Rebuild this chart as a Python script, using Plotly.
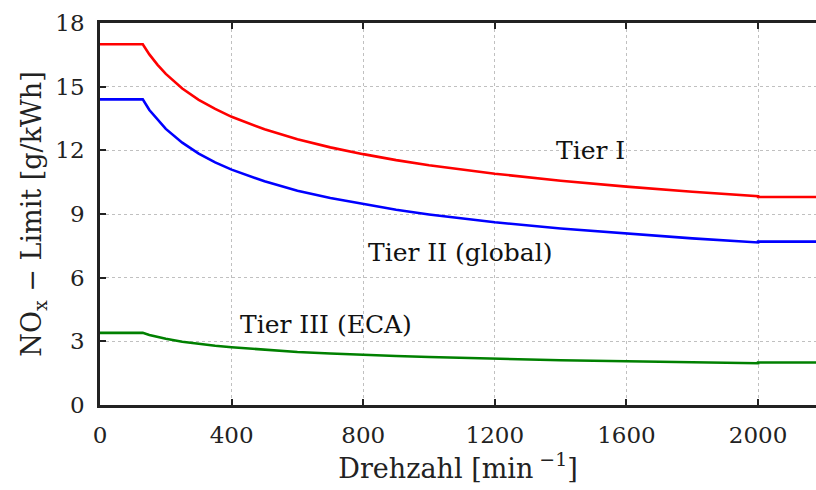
import plotly.graph_objects as go

rpm = [0, 130, 150, 175, 200, 250, 300, 350, 400, 500, 600, 700, 800, 900, 1000,
       1200, 1400, 1600, 1800, 2000, 2000.01, 2176]
tier1 = [17.0, 17.0, 16.52, 16.03, 15.60, 14.91, 14.38, 13.95, 13.58, 12.99, 12.52, 12.14,
         11.82, 11.54, 11.30, 10.90, 10.57, 10.29, 10.05, 9.84, 9.8, 9.8]
tier2 = [14.4, 14.4, 13.90, 13.43, 13.01, 12.36, 11.85, 11.43, 11.09, 10.54, 10.10, 9.75,
         9.46, 9.20, 8.98, 8.61, 8.32, 8.07, 7.85, 7.66, 7.7, 7.7]
tier3 = [3.4, 3.4, 3.30, 3.21, 3.12, 2.98, 2.88, 2.79, 2.72, 2.60, 2.50, 2.43,
         2.36, 2.31, 2.26, 2.18, 2.11, 2.06, 2.01, 1.97, 2.0, 2.0]

labels = ["Tier I", "Tier II (global)", "Tier III (ECA)"]
label_x = [1490, 1097, 687]
label_y = [12.0, 7.2, 3.8]

xticks = [0, 400, 800, 1200, 1600, 2000]
yticks = [0, 3, 6, 9, 12, 15, 18]

FONT = "DejaVu Serif"
TXT = "#222"
fig = go.Figure()
for y, c in [(tier1, "#ff0000"), (tier2, "#0000ff"), (tier3, "#008000")]:
    fig.add_trace(go.Scatter(x=rpm, y=y, mode="lines", line=dict(color=c, width=2.6),
                             showlegend=False, hoverinfo="skip"))

for t, x, y in zip(labels, label_x, label_y):
    fig.add_annotation(x=x, y=y, text=t, showarrow=False,
                       font=dict(family=FONT, size=25, color="#111"))

fig.update_layout(
    width=816, height=490,
    margin=dict(l=100, r=0, t=23, b=85),
    paper_bgcolor="white", plot_bgcolor="white",
    font=dict(family=FONT, size=23, color=TXT),
    xaxis=dict(range=[0, 2176], tickvals=xticks, ticks="inside", ticklen=6, tickwidth=2,
               tickcolor=TXT, showline=True, linecolor=TXT, linewidth=2.5,
               mirror="ticks", showgrid=True, gridcolor="#c0c0c0", griddash="dot",
               gridwidth=1, zeroline=False, ticklabelstandoff=8,
               tickfont=dict(family=FONT, size=23, color=TXT),
               title=dict(text="Drehzahl [min<sup> −1</sup>]", standoff=6,
                          font=dict(family=FONT, size=27, color=TXT))),
    yaxis=dict(range=[0, 18], tickvals=yticks, ticks="inside", ticklen=6, tickwidth=2,
               tickcolor=TXT, showline=True, linecolor=TXT, linewidth=2.5,
               showgrid=True, gridcolor="#c0c0c0", griddash="dot", gridwidth=1,
               zeroline=False, ticklabelstandoff=8,
               tickfont=dict(family=FONT, size=23, color=TXT),
               title=dict(text="NO<sub>x</sub> − Limit [g/kWh]", standoff=6,
                          font=dict(family=FONT, size=27, color=TXT))),
)
fig.write_html("out.html")
